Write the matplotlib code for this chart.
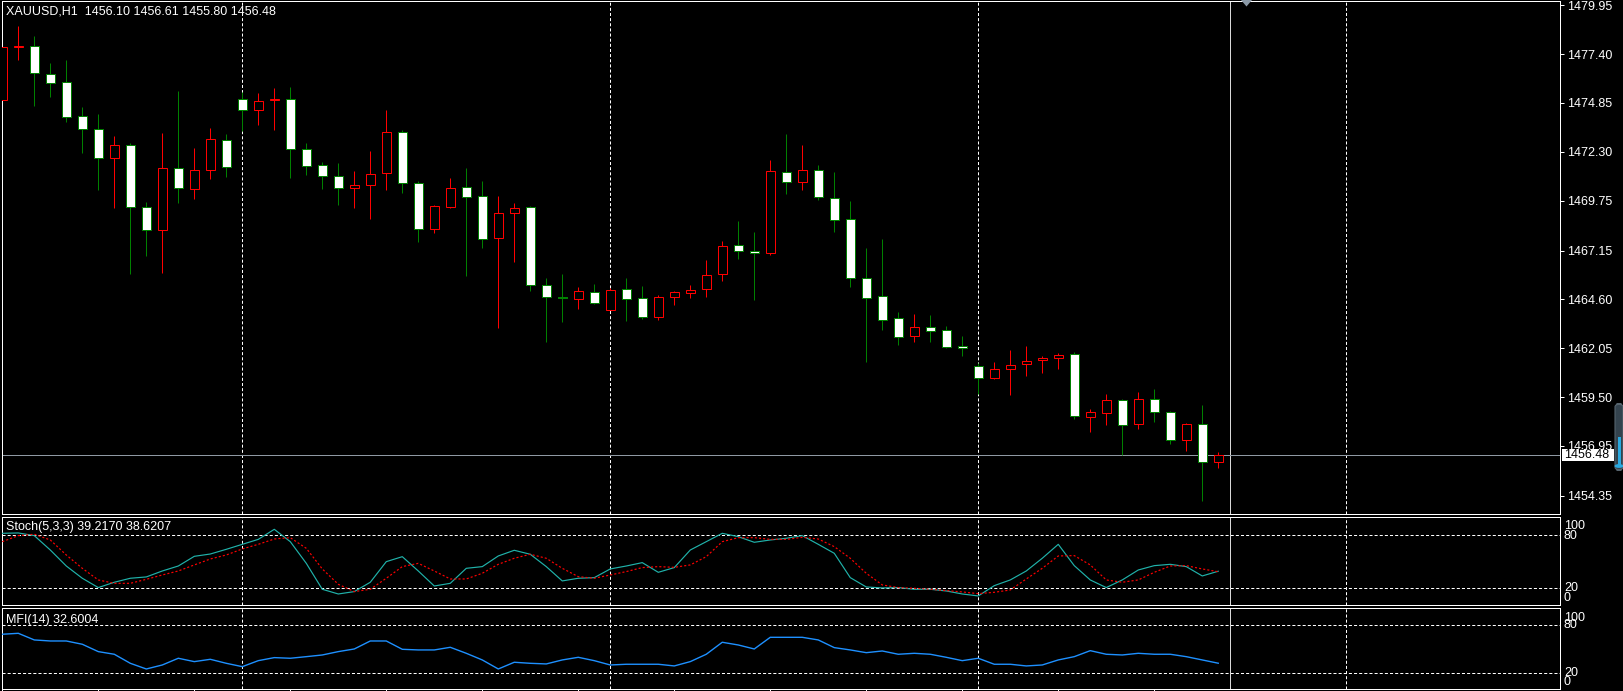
import numpy as np
import matplotlib
matplotlib.use("Agg")
from matplotlib import pyplot as plt
from matplotlib.patches import Rectangle, Polygon, FancyBboxPatch, Circle

plt.rcParams['font.family'] = ['Liberation Sans', 'DejaVu Sans']
plt.rcParams['lines.scale_dashes'] = False

# XAUUSD H1 bars
opens = [1475.01, 1477.76, 1477.81, 1476.35, 1475.93, 1474.16, 1473.48, 1471.97, 1472.64, 1469.41,
         1468.22, 1471.44, 1470.35, 1471.34, 1472.90, 1475.04, 1474.47, 1475.02, 1475.04, 1472.43,
         1471.60, 1471.03, 1470.40, 1470.56, 1471.18, 1473.32, 1470.66, 1468.29, 1469.44, 1470.45,
         1469.98, 1467.79, 1469.09, 1469.41, 1465.34, 1464.70, 1464.61, 1464.97, 1464.06, 1465.13,
         1464.66, 1463.70, 1464.71, 1464.92, 1465.13, 1465.91, 1467.42, 1467.11, 1467.01, 1471.23,
         1470.74, 1471.34, 1469.88, 1468.78, 1465.70, 1464.76, 1463.62, 1462.67, 1463.14, 1462.99,
         1462.15, 1461.11, 1460.48, 1460.95, 1461.21, 1461.42, 1461.53, 1461.73, 1458.45, 1458.66,
         1459.33, 1458.08, 1459.39, 1458.71, 1457.25, 1458.08, 1456.10]
highs = [1477.97, 1478.87, 1478.35, 1476.94, 1477.10, 1474.64, 1474.28, 1473.13, 1472.78, 1469.68,
         1473.27, 1475.48, 1472.50, 1473.55, 1473.23, 1475.43, 1475.37, 1475.63, 1475.69, 1472.75,
         1471.76, 1471.70, 1471.29, 1472.33, 1474.49, 1473.45, 1470.76, 1469.50, 1470.94, 1471.46,
         1470.78, 1470.00, 1469.63, 1469.45, 1465.72, 1465.93, 1465.25, 1465.40, 1465.20, 1465.72,
         1465.30, 1464.81, 1465.02, 1465.35, 1466.65, 1467.65, 1468.69, 1468.12, 1471.88, 1473.23,
         1472.65, 1471.62, 1471.25, 1469.74, 1467.28, 1467.75, 1463.94, 1463.84, 1463.79, 1463.21,
         1462.69, 1461.26, 1461.33, 1461.96, 1462.17, 1461.65, 1461.80, 1461.84, 1458.86, 1459.66,
         1459.39, 1459.77, 1459.92, 1458.78, 1458.15, 1459.09, 1456.61]
lows = [1472.75, 1477.10, 1474.69, 1475.16, 1473.87, 1472.26, 1470.31, 1469.39, 1465.93, 1466.88,
        1466.00, 1469.62, 1469.82, 1470.87, 1471.00, 1473.41, 1473.70, 1473.46, 1470.95, 1471.11,
        1470.38, 1469.54, 1469.39, 1468.81, 1470.33, 1470.14, 1467.61, 1468.05, 1469.39, 1465.84,
        1467.30, 1463.12, 1466.57, 1465.06, 1462.39, 1463.44, 1464.11, 1464.34, 1464.02, 1463.49,
        1463.59, 1463.54, 1464.32, 1464.69, 1464.74, 1465.58, 1466.71, 1464.57, 1466.92, 1470.12,
        1470.31, 1469.80, 1468.13, 1465.25, 1461.35, 1463.02, 1462.24, 1462.39, 1462.39, 1462.08,
        1461.65, 1459.68, 1460.45, 1459.63, 1460.62, 1460.76, 1460.98, 1458.37, 1457.70, 1458.06,
        1456.46, 1457.85, 1458.22, 1457.06, 1456.67, 1454.10, 1455.80]
closes = [1477.79, 1477.80, 1476.40, 1475.88, 1474.10, 1473.48, 1471.97, 1472.64, 1469.41, 1468.22,
          1471.44, 1470.40, 1471.34, 1472.96, 1471.50, 1474.47, 1474.94, 1475.06, 1472.43, 1471.55,
          1471.03, 1470.40, 1470.56, 1471.13, 1473.32, 1470.66, 1468.29, 1469.46, 1470.40, 1469.96,
          1467.74, 1469.09, 1469.35, 1465.34, 1464.74, 1464.68, 1465.02, 1464.40, 1465.07, 1464.61,
          1463.70, 1464.71, 1464.97, 1465.07, 1465.86, 1467.37, 1467.11, 1467.01, 1471.29, 1470.74,
          1471.35, 1469.93, 1468.73, 1465.70, 1464.69, 1463.54, 1462.62, 1463.14, 1462.94, 1462.13,
          1462.05, 1460.48, 1460.95, 1461.16, 1461.37, 1461.53, 1461.68, 1458.50, 1458.71, 1459.33,
          1458.03, 1459.39, 1458.71, 1457.25, 1458.08, 1456.10, 1456.48]

stoch_k = [81.9, 82.3, 79.3, 63.1, 45.1, 31.3, 20.8, 26.8, 31.3, 32.8,
           39.5, 45.1, 56.0, 58.6, 63.9, 69.5, 75.1, 86.4, 72.5, 48.1,
           18.9, 13.6, 16.3, 26.8, 50.0, 55.6, 39.5, 22.6, 25.6, 42.5,
           44.4, 56.4, 62.8, 58.3, 44.4, 28.3, 31.3, 32.0, 41.8, 45.1,
           48.9, 38.0, 43.3, 63.1, 72.5, 81.9, 78.1, 71.8, 74.4, 76.3,
           79.3, 69.5, 59.4, 32.0, 21.5, 20.4, 20.8, 18.9, 18.9, 17.0,
           13.6, 11.4, 23.0, 29.4, 39.5, 53.8, 69.5, 45.5, 29.4, 20.8,
           29.4, 40.6, 45.5, 47.0, 44.4, 33.9, 39.2170]
stoch_d = [72.5, 79.3, 80.8, 74.4, 57.5, 42.5, 29.4, 25.6, 25.6, 30.1,
           35.0, 39.5, 46.3, 53.0, 57.5, 64.3, 69.5, 75.5, 77.0, 65.0,
           41.8, 24.5, 16.3, 18.9, 31.3, 44.4, 48.1, 39.5, 30.5, 30.5,
           36.9, 47.0, 53.8, 58.3, 53.8, 42.5, 33.1, 31.3, 35.0, 38.8,
           43.3, 44.4, 43.6, 46.3, 55.6, 72.5, 77.0, 77.0, 75.1, 75.1,
           77.4, 75.5, 66.9, 53.8, 36.9, 23.8, 20.8, 20.0, 18.9, 17.4,
           15.9, 14.0, 15.5, 18.1, 30.5, 42.5, 56.4, 56.8, 46.3, 29.4,
           26.8, 29.4, 38.0, 45.1, 45.5, 41.8, 38.6207]
mfi = [68.8, 70.0, 61.7, 60.4, 60.4, 56.3, 47.1, 43.8, 32.5, 25.4,
       30.4, 38.8, 34.6, 37.5, 32.5, 28.3, 35.8, 39.6, 38.8, 40.8,
       42.9, 47.1, 50.4, 60.4, 60.4, 50.0, 49.2, 49.2, 52.5, 45.0,
       36.7, 25.4, 33.8, 32.5, 31.7, 36.7, 40.0, 35.8, 30.4, 31.3,
       31.3, 31.3, 29.2, 34.6, 43.8, 58.8, 55.4, 50.4, 65.0, 65.0,
       65.0, 61.7, 52.1, 49.2, 45.8, 47.9, 43.8, 45.0, 43.8, 40.0,
       35.8, 38.8, 31.3, 31.3, 29.2, 30.4, 36.7, 40.8, 48.3, 43.8,
       42.9, 45.0, 43.8, 43.8, 40.8, 36.7, 32.6004]

price_ticks = [1479.95, 1477.40, 1474.85, 1472.30, 1469.75, 1467.15, 1464.60,
               1462.05, 1459.50, 1456.95, 1454.35]
header = "XAUUSD,H1  1456.10 1456.61 1455.80 1456.48"
last_price = 1456.48

W, H = 1623, 691
PX = 0.72  # one pixel in points at dpi 100

def rect(x0, y0, x1, y1):
    return [x0 / W, 1 - y1 / H, (x1 - x0) / W, (y1 - y0) / H]

def fx(x):
    return x / W

def fy(y):
    return 1 - y / H

fig = plt.figure(figsize=(W / 100, H / 100), dpi=100, facecolor='black')
ax = fig.add_axes(rect(1.5, 1, 1560, 514))
ax_st = fig.add_axes(rect(1.5, 516.7, 1560, 605))
ax_mfi = fig.add_axes(rect(1.5, 608.3, 1560, 689.3))

x = np.arange(len(opens))
o = np.array(opens); h = np.array(highs); l = np.array(lows); c = np.array(closes)
up = c >= o

for a in (ax, ax_st, ax_mfi):
    a.set_facecolor('black')
    a.set_xlim(-0.05, 97.36)
    for s in a.spines.values():
        s.set_color('white')
        s.set_linewidth(PX)
    for g in (15, 38, 61, 84):
        a.axvline(g, color='white', lw=PX, ls=(0, (2.2, 1.5)), zorder=0.5)
    a.axvline(76.73, color='#d8d8d8', lw=PX, zorder=0.6)
    a.tick_params(left=False, labelleft=False, bottom=False, labelbottom=False)

# candles
ax.axhline(last_price, color='#8f99a3', lw=PX, zorder=0.7)
ax.vlines(x[up], l[up], h[up], color='#ff0000', lw=PX, zorder=2)
ax.vlines(x[~up], l[~up], h[~up], color='#008000', lw=PX, zorder=2)
body_lo = np.minimum(o, c)
body_h = np.maximum(np.abs(c - o), 0.001)
ax.bar(x[up], body_h[up], bottom=body_lo[up], width=0.58, facecolor='black',
       edgecolor='#ff0000', linewidth=PX, zorder=3)
ax.bar(x[~up], body_h[~up], bottom=body_lo[~up], width=0.58, facecolor='white',
       edgecolor='#008000', linewidth=PX, zorder=3)
ax.set_ylim(1453.40, 1480.17)
ax.yaxis.tick_right()
ax.set_yticks(price_ticks)
ax.set_yticklabels(['%.2f' % t for t in price_ticks])
ax.tick_params(axis='y', right=True, labelright=True, colors='white',
               length=4 * PX, width=PX, pad=2, labelsize=9)

# stochastic
ax_st.set_ylim(1.2, 100.6)
for lev in (80, 20):
    ax_st.axhline(lev, color='white', lw=PX, ls=(0, (2.2, 1.5)), zorder=0.5)
ax_st.plot(x, stoch_k, color='#20b2aa', lw=0.85, zorder=3)
ax_st.plot(x, stoch_d, color='#ff0000', lw=0.85, ls=(0, (1.5, 1.5)), zorder=3)

# MFI
ax_mfi.set_ylim(0, 101.25)
for lev in (80, 20):
    ax_mfi.axhline(lev, color='white', lw=PX, ls=(0, (2.2, 1.5)), zorder=0.5)
ax_mfi.plot(x, mfi, color='#1e90ff', lw=1.0, zorder=3)
ax_mfi.set_xticks(np.arange(0, 73, 6))
ax_mfi.tick_params(axis='x', bottom=True, direction='out', length=2, width=PX,
                   colors='white')

# texts
fig.text(fx(6), fy(12), header, color='white', fontsize=9, va='center')
fig.text(fx(6.5), fy(527.3), "Stoch(5,3,3) 39.2170 38.6207", color='white',
         fontsize=9, va='center')
fig.text(fx(6.5), fy(620), "MFI(14) 32.6004", color='white', fontsize=9, va='center')
for lab, yy in [('100', 525.7), ('80', 535.7), ('20', 588), ('0', 598.3),
                ('100', 617.7), ('80', 625), ('20', 673.3), ('0', 681.7)]:
    fig.text(fx(1564), fy(yy), lab, color='white', fontsize=9, va='center')

# current price box
fig.patches.append(Rectangle((fx(1562), fy(461)), (1614 - 1562) / W, 12.3 / H,
                             transform=fig.transFigure, facecolor='white',
                             edgecolor='none', zorder=2))
fig.text(fx(1564), fy(455), "%.2f" % last_price, color='black', fontsize=9,
         va='center', zorder=4)

# chart shift marker
fig.patches.append(Polygon([[fx(1241), fy(0)], [fx(1252), fy(0)], [fx(1246.5), fy(6.5)]],
                           closed=True, transform=fig.transFigure,
                           facecolor='#8a98a6', edgecolor='none', zorder=2))

# scroll widget on the right edge
fig.patches.append(FancyBboxPatch((fx(1615), fy(470)), 8 / W, 66 / H,
                                  boxstyle='round,pad=0,rounding_size=0.004',
                                  transform=fig.transFigure, facecolor='#34434e',
                                  edgecolor='#56646e', linewidth=0.8, zorder=2))
fig.patches.append(Rectangle((fx(1617.5), fy(466)), 3 / W, 29 / H,
                             transform=fig.transFigure, facecolor='#2aa9e0',
                             edgecolor='none', zorder=3))
fig.patches.append(Circle((fx(1619), fy(466)), 4.5 / W, transform=fig.transFigure,
                          facecolor='#2aa9e0', edgecolor='none', zorder=3))

fig.savefig("out.png", dpi=100, facecolor='black')
